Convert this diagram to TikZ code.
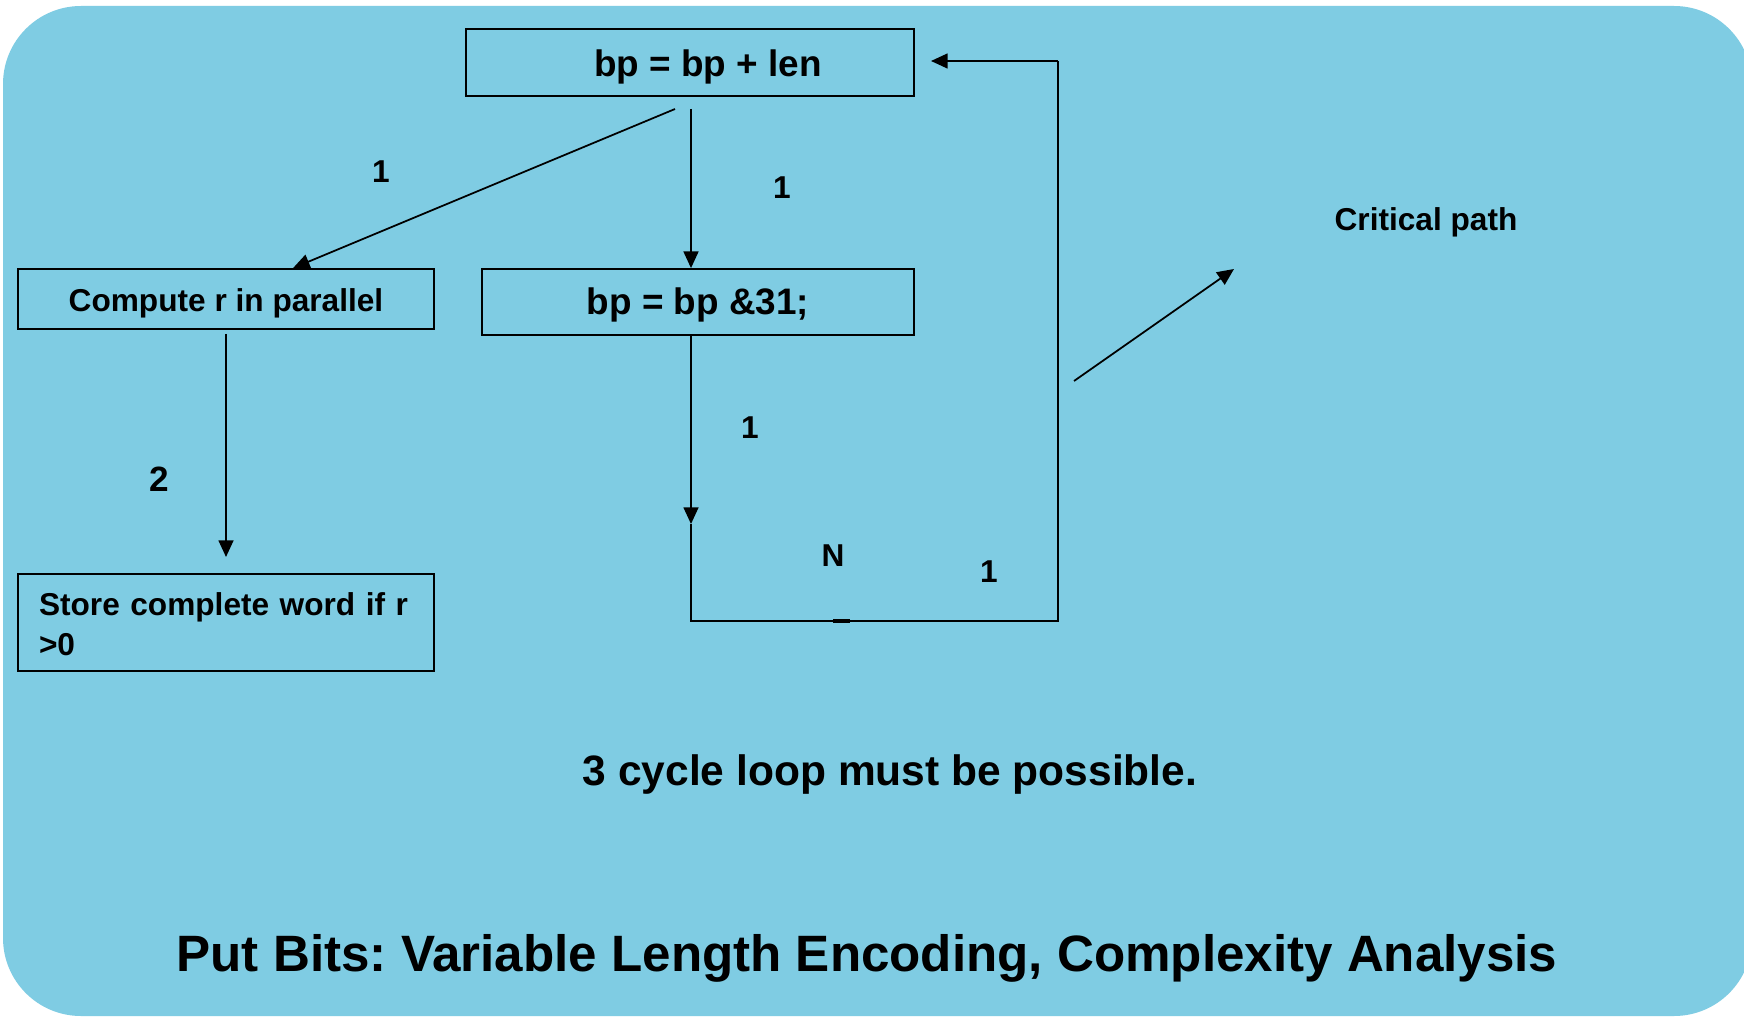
\documentclass[tikz,border=0pt]{standalone}
\usepackage{fontspec}
\setmainfont{Liberation Sans}
\usetikzlibrary{arrows.meta}
\definecolor{panel}{RGB}{127,204,227}
\frenchspacing
\tikzset{
  box/.style={draw=black, line width=1pt, inner sep=0pt},
  wire/.style={draw=black, line width=1pt},
  arr/.style={wire, -{Triangle[length=9.5pt,width=8.5pt]}},
  txt/.style={font=\bfseries\fontsize{18}{22.7}\selectfont, inner sep=0pt},
  bigtxt/.style={font=\bfseries\fontsize{21}{25}\selectfont, inner sep=0pt},
  lbl/.style={font=\bfseries\fontsize{18}{22}\selectfont, inner sep=0pt},
}
\begin{document}
\begin{tikzpicture}[x=0.02cm, y=-0.02cm]
  % canvas and rounded panel
  \useasboundingbox (0,0) rectangle (1744,1020);
  \fill[white] (0,0) rectangle (1744,1020);
  \fill[panel, rounded corners=78*0.02cm] (3,6) rectangle (1752,1016);

  % boxes
  \node[box, minimum width=448*0.02cm, minimum height=67*0.02cm] (add) at (690,62.5) {};
  \node[box, minimum width=416*0.02cm, minimum height=60*0.02cm] (comp) at (226,299) {};
  \node[box, minimum width=432*0.02cm, minimum height=66*0.02cm] (mask) at (698,302) {};
  \node[box, minimum width=416*0.02cm, minimum height=97*0.02cm] (store) at (226,622.5) {};

  % box texts
  \node[bigtxt] (addtxt) at (708,67) {bp = bp + len};
  \node[txt] (comptxt) at (226,303) {Compute r in parallel};
  \node[bigtxt] (masktxt) at (698,305) {bp = bp \&31;};
  \node[txt, text width=374*0.02cm, align=left] (storetxt) at (226,624.5) {Store complete word if r\\>0};

  % connector ends
  \coordinate (a1) at (675,109);
  \coordinate (a2) at (691,109);
  \coordinate (c1) at (226,334);
  \coordinate (c2) at (226,557);
  \coordinate (m1) at (691,335);
  \coordinate (m2) at (691,524);
  \coordinate (bl) at (691,621);
  \coordinate (br) at (1058,621);
  \coordinate (tr) at (1058,61);
  \coordinate (tip) at (931,61);
  \coordinate (cp0) at (1074,381);
  \coordinate (cp1) at (1234,269);

  % connectors
  \draw[arr] (a1) -- (comp.north -| 293,0);
  \draw[arr] (a2) -- (mask.north -| a2);
  \draw[arr] (c1) -- (c2);
  \draw[arr] (m1) -- (m2);
  \draw[wire] (m2) -- (bl) -- (br) -- (tr);
  \draw[arr] (tr) -- (tip);
  \draw[line width=2pt] (833,621) -- (850,621);
  \draw[arr] (cp0) -- (cp1);

  % edge weights
  \node[lbl] (w1) at (381,172) {1};
  \node[lbl] (w2) at (782,188) {1};
  \node[lbl, font=\bfseries\fontsize{20}{24}\selectfont] (w3) at (159,479) {2};
  \node[lbl] (w4) at (750,428) {1};
  \node[lbl] (wn) at (833,556) {N};
  \node[lbl] (w5) at (989,572) {1};

  % notes
  \node[txt] (crit) at (1426,222) {Critical path};
  \node[font=\bfseries\fontsize{24.2}{28}\selectfont, inner sep=0pt] (loop) at (890,774.5) {3 cycle loop must be possible.};
  \node[font=\bfseries\fontsize{29.1}{34}\selectfont, inner sep=0pt] (title) at (867,958) {Put Bits: Variable Length Encoding, Complexity Analysis};
\end{tikzpicture}
\end{document}
